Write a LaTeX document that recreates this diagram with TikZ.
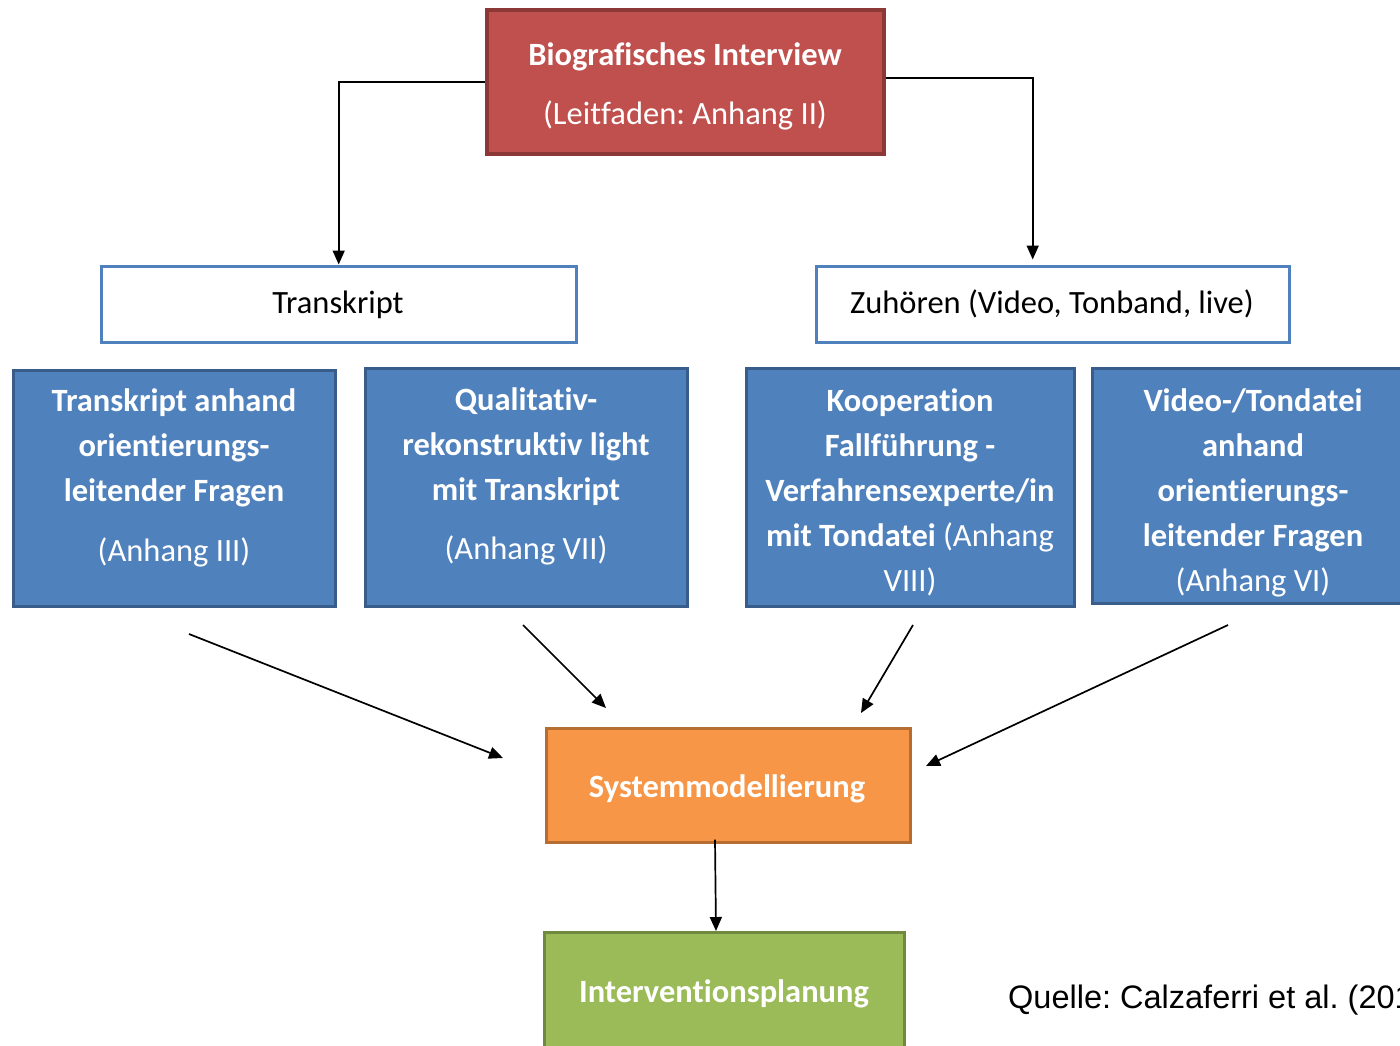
\documentclass[tikz,border=0pt]{standalone}
\usepackage{fontspec}
\setmainfont{Carlito}[Ligatures=NoCommon]
\newfontfamily\arialfont{Liberation Sans}
\usetikzlibrary{arrows.meta}

\definecolor{redfill}{HTML}{C0504D}
\definecolor{redline}{HTML}{8C3836}
\definecolor{bluefill}{HTML}{4F81BD}
\definecolor{blueline}{HTML}{385D8A}
\definecolor{orangefill}{HTML}{F79646}
\definecolor{orangeline}{HTML}{B66D31}
\definecolor{greenfill}{HTML}{9BBB59}
\definecolor{greenline}{HTML}{71893F}

\begin{document}
\begin{tikzpicture}[x=1pt,y=-1pt,
  box/.style={rectangle, inner sep=0pt, line width=3pt},
  redbox/.style={box, fill=redfill, draw=redline, line width=4pt},
  whitebox/.style={box, fill=white, draw=bluefill},
  bluebox/.style={box, fill=bluefill, draw=blueline},
  orangebox/.style={box, fill=orangefill, draw=orangeline},
  greenbox/.style={box, fill=greenfill, draw=greenline},
  % multi-line labels sit on the baseline of their last line
  lbl/.style={text=white, align=center, anchor=base, inner sep=0pt,
    font=\fontsize{32.5}{45}\selectfont\frenchspacing},
  dlbl/.style={lbl, text=black},
  conn/.style={draw=black, line width=1.7pt, -{Triangle[length=14pt,width=12pt]}}
]
\useasboundingbox (0,0) rectangle (1400,1045);
\clip (0,0) rectangle (1400,1045);

% boxes
\node[redbox, minimum width=397, minimum height=144] (bio) at (685.5,82) {};
\node[whitebox, minimum width=475, minimum height=76] (trans) at (338.7,304) {};
\node[whitebox, minimum width=473, minimum height=76] (zuh) at (1052.7,304) {};
\node[bluebox, minimum width=322, minimum height=236] (b1) at (174,488) {};
\node[bluebox, minimum width=322, minimum height=238] (b2) at (526,487) {};
\node[bluebox, minimum width=328, minimum height=238] (b3) at (910,487) {};
\node[bluebox, minimum width=323, minimum height=235] (b4) at (1254,486) {};
\node[orangebox, minimum width=364, minimum height=114] (sys) at (728,785) {};
\node[greenbox, minimum width=360, minimum height=121] (plan) at (724,993) {};

% texts
\node[lbl] (bioT) at (685,124) {\textbf{Biografisches Interview}\\[13.5pt](Leitfaden: Anhang II)};
\node[dlbl] (transT) at (338,313) {Transkript};
\node[dlbl] (zuhT) at (1052,313) {Zuhören (Video, Tonband, live)};
\node[lbl] (b1T) at (174,561) {\textbf{Transkript anhand}\\\textbf{orientierungs-}\\\textbf{leitender Fragen}\\[15pt](Anhang III)};
\node[lbl] (b2T) at (526,559) {\textbf{Qualitativ-}\\\textbf{rekonstruktiv light}\\\textbf{mit Transkript}\\[14pt](Anhang VII)};
\node[lbl] (b3T) at (910,591) {\textbf{Kooperation}\\\textbf{Fallführung -}\\\textbf{Verfahrensexperte/in}\\\textbf{mit Tondatei} (Anhang\\VIII)};
\node[lbl] (b4T) at (1253,591) {\textbf{Video-/Tondatei}\\\textbf{anhand}\\\textbf{orientierungs-}\\\textbf{leitender Fragen}\\(Anhang VI)};
\node[lbl] (sysT) at (727,797) {\textbf{Systemmodellierung}};
\node[lbl] (planT) at (724,1002) {\textbf{Interventionsplanung}};
\node[anchor=base west, inner sep=0pt, font=\arialfont\fontsize{32.5}{38}\selectfont\frenchspacing] (src) at (1008,1008) {Quelle: Calzaferri et al. (2019)};

% connectors from the interview to the two ways of working with it
\draw[conn] (bio.west) -| (trans.north);
\draw[conn] ([yshift=4pt]bio.east) -| ([xshift=-20pt,yshift=5pt]zuh.north);

% free-standing arrows into the system model
\coordinate (s1) at (189,634);
\coordinate (e1) at (503,758);
\coordinate (s2) at (523,625);
\coordinate (e2) at (606,708);
\coordinate (s3) at (913,625);
\coordinate (e3) at (861,713);
\coordinate (s4) at (1228,625);
\coordinate (e4) at (926,766);
\draw[conn] (s1) -- (e1);
\draw[conn] (s2) -- (e2);
\draw[conn] (s3) -- (e3);
\draw[conn] (s4) -- (e4);

\draw[conn] ([xshift=-13pt,yshift=4pt]sys.south) -- ([xshift=-8pt]plan.north);
\end{tikzpicture}
\end{document}
